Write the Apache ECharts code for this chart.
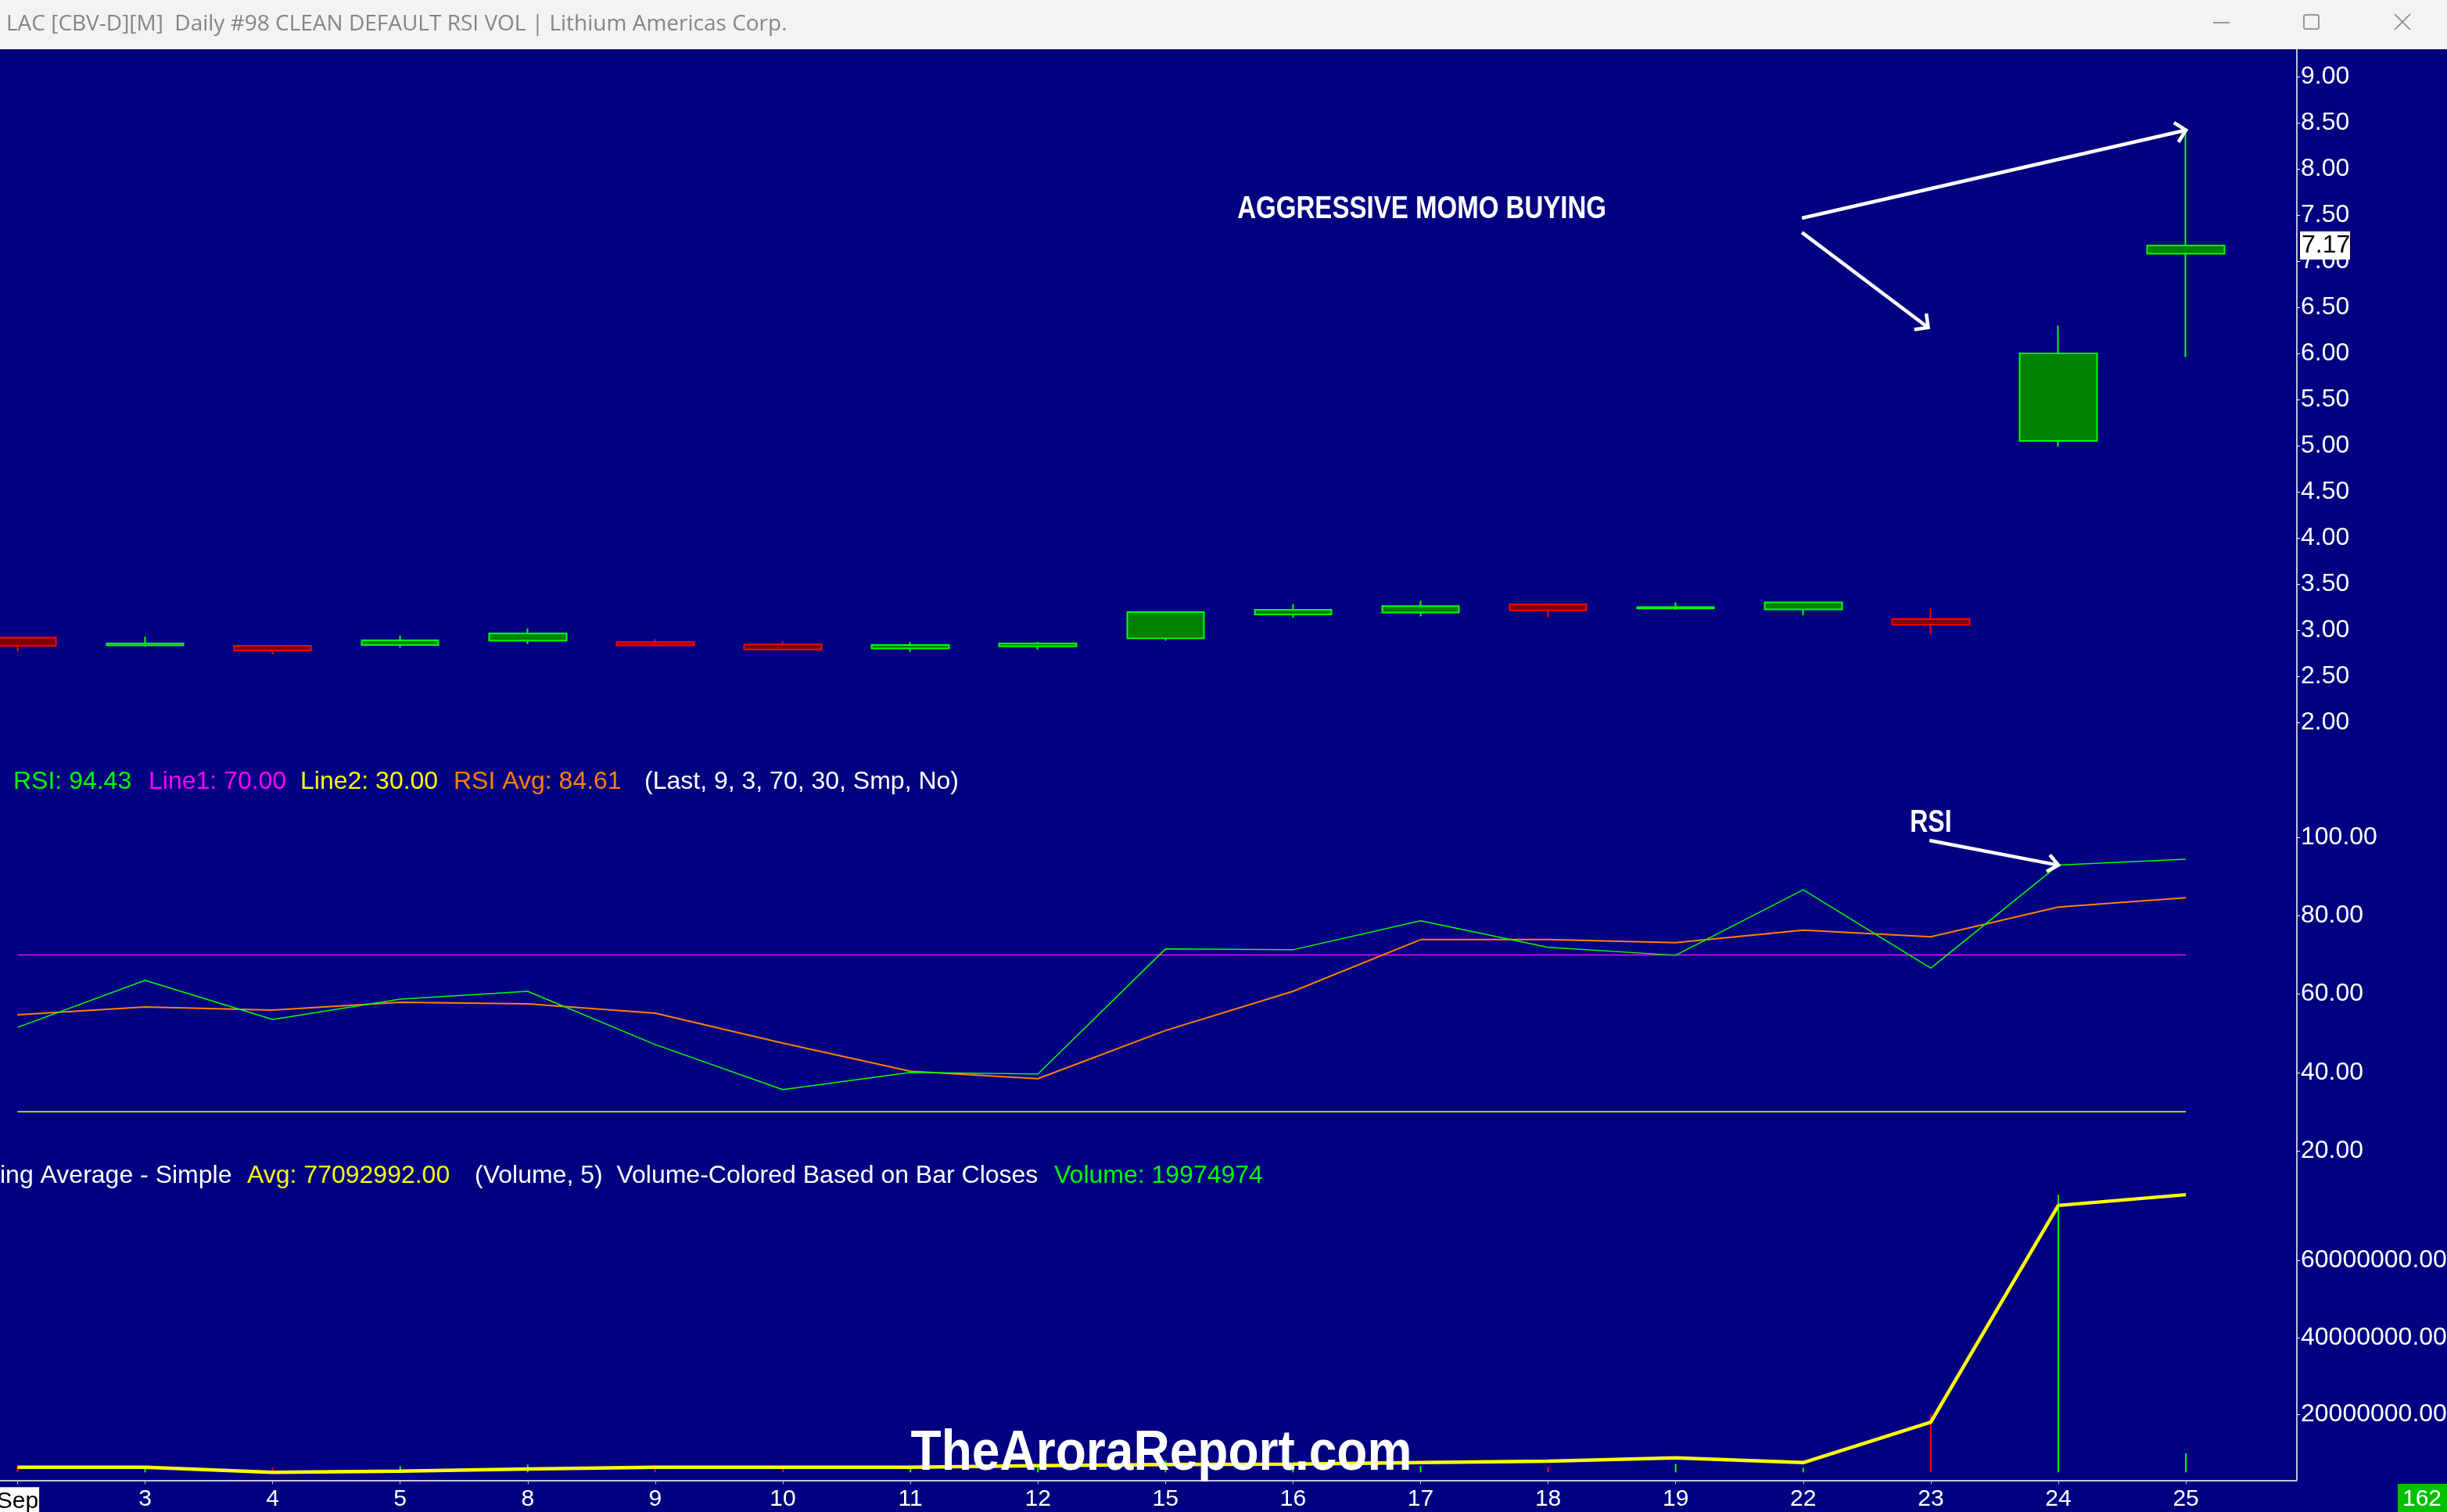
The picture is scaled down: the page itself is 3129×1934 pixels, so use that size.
<!DOCTYPE html>
<html><head><meta charset="utf-8">
<script src="https://cdn.jsdelivr.net/npm/echarts@6/dist/echarts.min.js"></script>
<style>html,body{margin:0;padding:0;background:#000080;overflow:hidden}#c{width:3129px;height:1934px}</style>
</head><body><div id="c"></div>
<script>
// ---------------- DATA ----------------
const DATES = ['Sep','3','4','5','8','9','10','11','12','15','16','17','18','19','22','23','24','25'];
const OPEN  = [2.92, 2.835, 2.83, 2.84, 2.885, 2.87, 2.845, 2.80, 2.825, 2.91, 3.17, 3.19, 3.28, 3.235, 3.225, 3.12, 5.05, 7.08];
const CLOSE = [2.83, 2.855, 2.78, 2.89, 2.965, 2.835, 2.79, 2.84, 2.855, 3.195, 3.22, 3.26, 3.215, 3.25, 3.30, 3.06, 6.00, 7.17];
const LOW   = [2.77, 2.82, 2.74, 2.81, 2.85, 2.825, 2.78, 2.765, 2.79, 2.885, 3.135, 3.15, 3.14, 3.22, 3.16, 2.96, 4.99, 5.96];
const HIGH  = [2.92, 2.93, 2.84, 2.94, 3.02, 2.90, 2.88, 2.87, 2.87, 3.195, 3.28, 3.32, 3.29, 3.30, 3.30, 3.235, 6.30, 8.42];
const RSI     = [51.5, 63.5, 53.5, 58.7, 60.7, 47.1, 35.6, 40.0, 39.6, 71.5, 71.3, 78.7, 71.9, 69.9, 86.6, 66.6, 92.9, 94.43];
const RSI_AVG = [54.7, 56.7, 55.9, 57.9, 57.5, 55.1, 47.5, 40.3, 38.4, 50.7, 60.7, 73.9, 73.9, 73.1, 76.3, 74.6, 82.2, 84.61];
const LINE1 = 70, LINE2 = 30;
const VOLUME  = [7.1e6, 5.0e6, 4.9e6, 6.6e6, 8.2e6, 7.4e6, 5.5e6, 6.6e6, 7.5e6, 12.6e6, 7.0e6, 6.8e6, 6.0e6, 8.8e6, 4.7e6, 61.6e6, 291.7e6, 19974974];
const VOL_AVG = [6.3e6, 6.3e6, 5.0e6, 5.3e6, 5.85e6, 6.3e6, 6.3e6, 6.3e6, 6.7e6, 7.0e6, 7.1e6, 7.5e6, 7.9e6, 8.75e6, 7.5e6, 18.0e6, 74.3e6, 77092992];
const PRICE_TICKS = [2, 2.5, 3, 3.5, 4, 4.5, 5, 5.5, 6, 6.5, 7, 7.5, 8, 8.5, 9];
const RSI_TICKS = [20, 40, 60, 80, 100];
const VOL_TICKS = [20000000, 40000000, 60000000];
const TITLE = 'LAC [CBV-D][M]  Daily #98 CLEAN DEFAULT RSI VOL | Lithium Americas Corp.';
const BAR_COUNT = '162';
const ANNOT_TEXT = 'AGGRESSIVE MOMO BUYING';
const WATERMARK = 'TheAroraReport.com';

// ---------------- LAYOUT ----------------
const W = 3129, H = 1934;
const PLOT_RIGHT = 2937;
const RIGHT = W - PLOT_RIGHT;
const SLOT = 163.1, FIRST_X = 22.4;
const XMIN = -FIRST_X / SLOT, XMAX = XMIN + PLOT_RIGHT / SLOT;
const P_TOP = 63, P_BOT = 960;
const PMAX = 9 + (98 - P_TOP) / 118, PMIN = 9 - (P_BOT - 98) / 118;
const R_TOP = 960, R_BOT = 1490;
const RMAX = 100 + (1071 - R_TOP) / 5.0125, RMIN = 100 - (R_BOT - 1071) / 5.0125;
const V_TOP = 1490, V_BOT = 1893.3;
const VAMIN = (1907.8 - V_BOT) / 4.925 * 1e6, VAMAX = (1907.8 - V_TOP) / 4.925 * 1e6;
const VBMIN = -(V_BOT - 1883.3) / 1.217 * 1e6, VBMAX = (1883.3 - V_TOP) / 1.217 * 1e6;

const FONT = '"Liberation Sans", Arial, Helvetica, sans-serif';
const IDX = DATES.map((d, i) => i);
const LAST = DATES.length - 1;

function xAxisCfg(g) {
  return {
    type: 'value', gridIndex: g, min: XMIN, max: XMAX, show: g === 2,
    axisLine: { show: true, onZero: false, lineStyle: { color: '#ffffff', width: 1.5 } },
    axisTick: { show: true, customValues: IDX, length: 5, lineStyle: { color: '#c8c8c8' } },
    axisLabel: {
      customValues: IDX, color: '#ffffff', fontSize: 30, fontFamily: FONT, margin: 9,
      formatter: v => { const i = Math.round(v); return i === 0 ? '{sep|' + DATES[0] + '}' : DATES[i]; },
      rich: { sep: { backgroundColor: '#ffffff', color: '#000000', fontSize: 30, fontFamily: FONT, padding: [3, 1, 3, 1] } }
    },
    splitLine: { show: false }
  };
}
function yAxisCfg(g, min, max, ticks, show) {
  return {
    type: 'value', gridIndex: g, position: 'right', min, max, show,
    axisLine: { show: false, onZero: false },
    axisTick: { show: true, customValues: ticks, length: 4, lineStyle: { color: '#ffffff' } },
    axisLabel: { customValues: ticks, color: '#ffffff', fontSize: 32, fontFamily: FONT, margin: 5,
      formatter: v => Number(v).toFixed(2) },
    splitLine: { show: false }
  };
}
const gridCfg = (top, bottom) => ({ left: 0, right: RIGHT, top, height: bottom - top, containLabel: false, outerBoundsMode: 'none' });

const chart = echarts.init(document.getElementById('c'), null, { renderer: 'canvas', width: W, height: H });

const option = {
  backgroundColor: '#000080',
  animation: false,
  grid: [gridCfg(P_TOP, P_BOT), gridCfg(R_TOP, R_BOT), gridCfg(V_TOP, V_BOT)],
  xAxis: [xAxisCfg(0), xAxisCfg(1), xAxisCfg(2)],
  yAxis: [
    yAxisCfg(0, PMIN, PMAX, PRICE_TICKS, true),
    yAxisCfg(1, RMIN, RMAX, RSI_TICKS, true),
    yAxisCfg(2, VAMIN, VAMAX, VOL_TICKS, true),
    yAxisCfg(2, VBMIN, VBMAX, [], false)
  ],
  series: [
    {
      type: 'candlestick', xAxisIndex: 0, yAxisIndex: 0, barWidth: 99, clip: true,
      data: IDX.map(i => [i, OPEN[i], CLOSE[i], LOW[i], HIGH[i]]),
      itemStyle: { color: '#008000', color0: '#800000', borderColor: '#00ff00', borderColor0: '#ff0000', borderWidth: 2 }
    },
    { type: 'line', xAxisIndex: 1, yAxisIndex: 1, symbol: 'none', data: IDX.map(i => [i, LINE1]),
      lineStyle: { color: '#ff00ff', width: 1.5 }, z: 2 },
    { type: 'line', xAxisIndex: 1, yAxisIndex: 1, symbol: 'none', data: IDX.map(i => [i, LINE2]),
      lineStyle: { color: '#ffff00', width: 1.5 }, z: 2 },
    { type: 'line', xAxisIndex: 1, yAxisIndex: 1, symbol: 'none', data: IDX.map(i => [i, RSI_AVG[i]]),
      lineStyle: { color: '#ff8000', width: 2 }, z: 3 },
    { type: 'line', xAxisIndex: 1, yAxisIndex: 1, symbol: 'none', data: IDX.map(i => [i, RSI[i]]),
      lineStyle: { color: '#00ff00', width: 1.5 }, z: 4 },
    { type: 'bar', xAxisIndex: 2, yAxisIndex: 3, barWidth: 2,
      data: IDX.map(i => ({ value: [i, VOLUME[i]],
        itemStyle: { color: (i > 0 ? CLOSE[i] >= CLOSE[i - 1] : CLOSE[i] >= OPEN[i]) ? '#00ff00' : '#ff0000' } })), z: 2 },
    { type: 'line', xAxisIndex: 2, yAxisIndex: 2, symbol: 'none', data: IDX.map(i => [i, VOL_AVG[i]]),
      lineStyle: { color: '#ffff00', width: 4.5 }, z: 3 }
  ]
};
chart.setOption(option);

// ---------------- ANNOTATIONS ----------------
const ANNOT = {
  momoText: [11.01, 7.56],
  momoArrow1: [[13.99, 7.466], [17, HIGH[17]]],
  momoArrow2: [[13.99, 7.31], [14.98, 6.28]],
  rsiText: [15.0, 103.6],
  rsiArrow: [[14.99, 99.2], [16, RSI[16]]]
};
const toP = (si, pt) => chart.convertToPixel({ seriesIndex: si }, pt);
function arrow(p0, p1, w, head, ang) {
  const a = Math.atan2(p1[1] - p0[1], p1[0] - p0[0]);
  const h1 = [p1[0] - head * Math.cos(a - ang), p1[1] - head * Math.sin(a - ang)];
  const h2 = [p1[0] - head * Math.cos(a + ang), p1[1] - head * Math.sin(a + ang)];
  return [
    { type: 'polyline', z: 100, shape: { points: [p0, p1] }, style: { stroke: '#ffffff', lineWidth: w, fill: null } },
    { type: 'polyline', z: 100, shape: { points: [h1, p1, h2] }, style: { stroke: '#ffffff', lineWidth: w, fill: null } }
  ];
}
function txt(x, y, text, font, fill, align, sx) {
  return { type: 'text', x, y, z: 110, scaleX: sx || 1, style: { text, font, fill, align: align || 'left', verticalAlign: 'middle' } };
}
const F32 = '32px "Liberation Sans", Arial';
const g = [];
// title bar
g.push({ type: 'rect', z: 90, shape: { x: 0, y: 0, width: W, height: 63 }, style: { fill: '#f3f3f3' } });
g.push(txt(8, 31, TITLE, '28px "Open Sans", "Noto Sans", sans-serif', '#858585', 'left'));
g.push({ type: 'line', z: 95, shape: { x1: 2830, y1: 29, x2: 2851, y2: 29 }, style: { stroke: '#7a7a7a', lineWidth: 1.5 } });
g.push({ type: 'rect', z: 95, shape: { x: 2946, y: 19, width: 19, height: 18, r: 2 }, style: { fill: null, stroke: '#7a7a7a', lineWidth: 1.5 } });
g.push({ type: 'line', z: 95, shape: { x1: 3062, y1: 18, x2: 3082, y2: 38 }, style: { stroke: '#7a7a7a', lineWidth: 1.5 } });
g.push({ type: 'line', z: 95, shape: { x1: 3082, y1: 18, x2: 3062, y2: 38 }, style: { stroke: '#7a7a7a', lineWidth: 1.5 } });
// continuous right axis line across the three panes
g.push({ type: 'line', z: 80, shape: { x1: PLOT_RIGHT, y1: P_TOP, x2: PLOT_RIGHT, y2: V_BOT }, style: { stroke: '#ffffff', lineWidth: 1.5 } });
// last price tag
const yLast = chart.convertToPixel({ yAxisIndex: 0 }, CLOSE[LAST]);
g.push({ type: 'rect', z: 105, shape: { x: PLOT_RIGHT + 4, y: yLast - 18, width: 64, height: 36 }, style: { fill: '#ffffff' } });
g.push(txt(PLOT_RIGHT + 6, yLast, CLOSE[LAST].toFixed(2), F32, '#000000'));
// RSI header
const RH = 1000;
g.push(txt(17, RH, 'RSI: ' + RSI[LAST].toFixed(2), F32, '#00ff00'));
g.push(txt(190, RH, 'Line1: ' + LINE1.toFixed(2), F32, '#ff00ff'));
g.push(txt(384, RH, 'Line2: ' + LINE2.toFixed(2), F32, '#ffff00'));
g.push(txt(580, RH, 'RSI Avg: ' + RSI_AVG[LAST].toFixed(2), F32, '#ff8000'));
g.push(txt(824, RH, '(Last, 9, 3, 70, 30, Smp, No)', F32, '#ffffff'));
// Volume header
const VH = 1504;
g.push(txt(0, VH, 'ing Average - Simple', F32, '#ffffff'));
g.push(txt(316, VH, 'Avg: ' + VOL_AVG[LAST].toFixed(2), F32, '#ffff00'));
g.push(txt(607, VH, '(Volume, 5)  Volume-Colored Based on Bar Closes', F32, '#ffffff'));
g.push(txt(1348, VH, 'Volume: ' + VOLUME[LAST], F32, '#00ff00'));
// annotations (condensed bold)
const BOLD40 = 'bold 40px "Liberation Sans", Arial';
const mt = toP(0, ANNOT.momoText);
g.push(txt(mt[0], mt[1], ANNOT_TEXT, BOLD40, '#ffffff', 'center', 0.826));
g.push(...arrow(toP(0, ANNOT.momoArrow1[0]), toP(0, ANNOT.momoArrow1[1]), 4.5, 18, Math.PI / 4));
g.push(...arrow(toP(0, ANNOT.momoArrow2[0]), toP(0, ANNOT.momoArrow2[1]), 4.5, 18, Math.PI / 4));
const rt = toP(4, ANNOT.rsiText);
g.push(txt(rt[0], rt[1], 'RSI', BOLD40, '#ffffff', 'center', 0.8));
g.push(...arrow(toP(4, ANNOT.rsiArrow[0]), toP(4, ANNOT.rsiArrow[1]), 4.5, 17, Math.PI * 0.22));
// watermark
g.push(txt(1485, 1860, WATERMARK, 'bold 72px "Liberation Sans", Arial', '#ffffff', 'center', 0.89));
// bar count box
g.push({ type: 'rect', z: 105, shape: { x: 3066, y: 1898, width: 63, height: 36 }, style: { fill: '#00c000' } });
g.push(txt(3097, 1918, BAR_COUNT, '30px "Liberation Sans", Arial', '#ffffff', 'center'));
chart.setOption({ graphic: g });
</script></body></html>
